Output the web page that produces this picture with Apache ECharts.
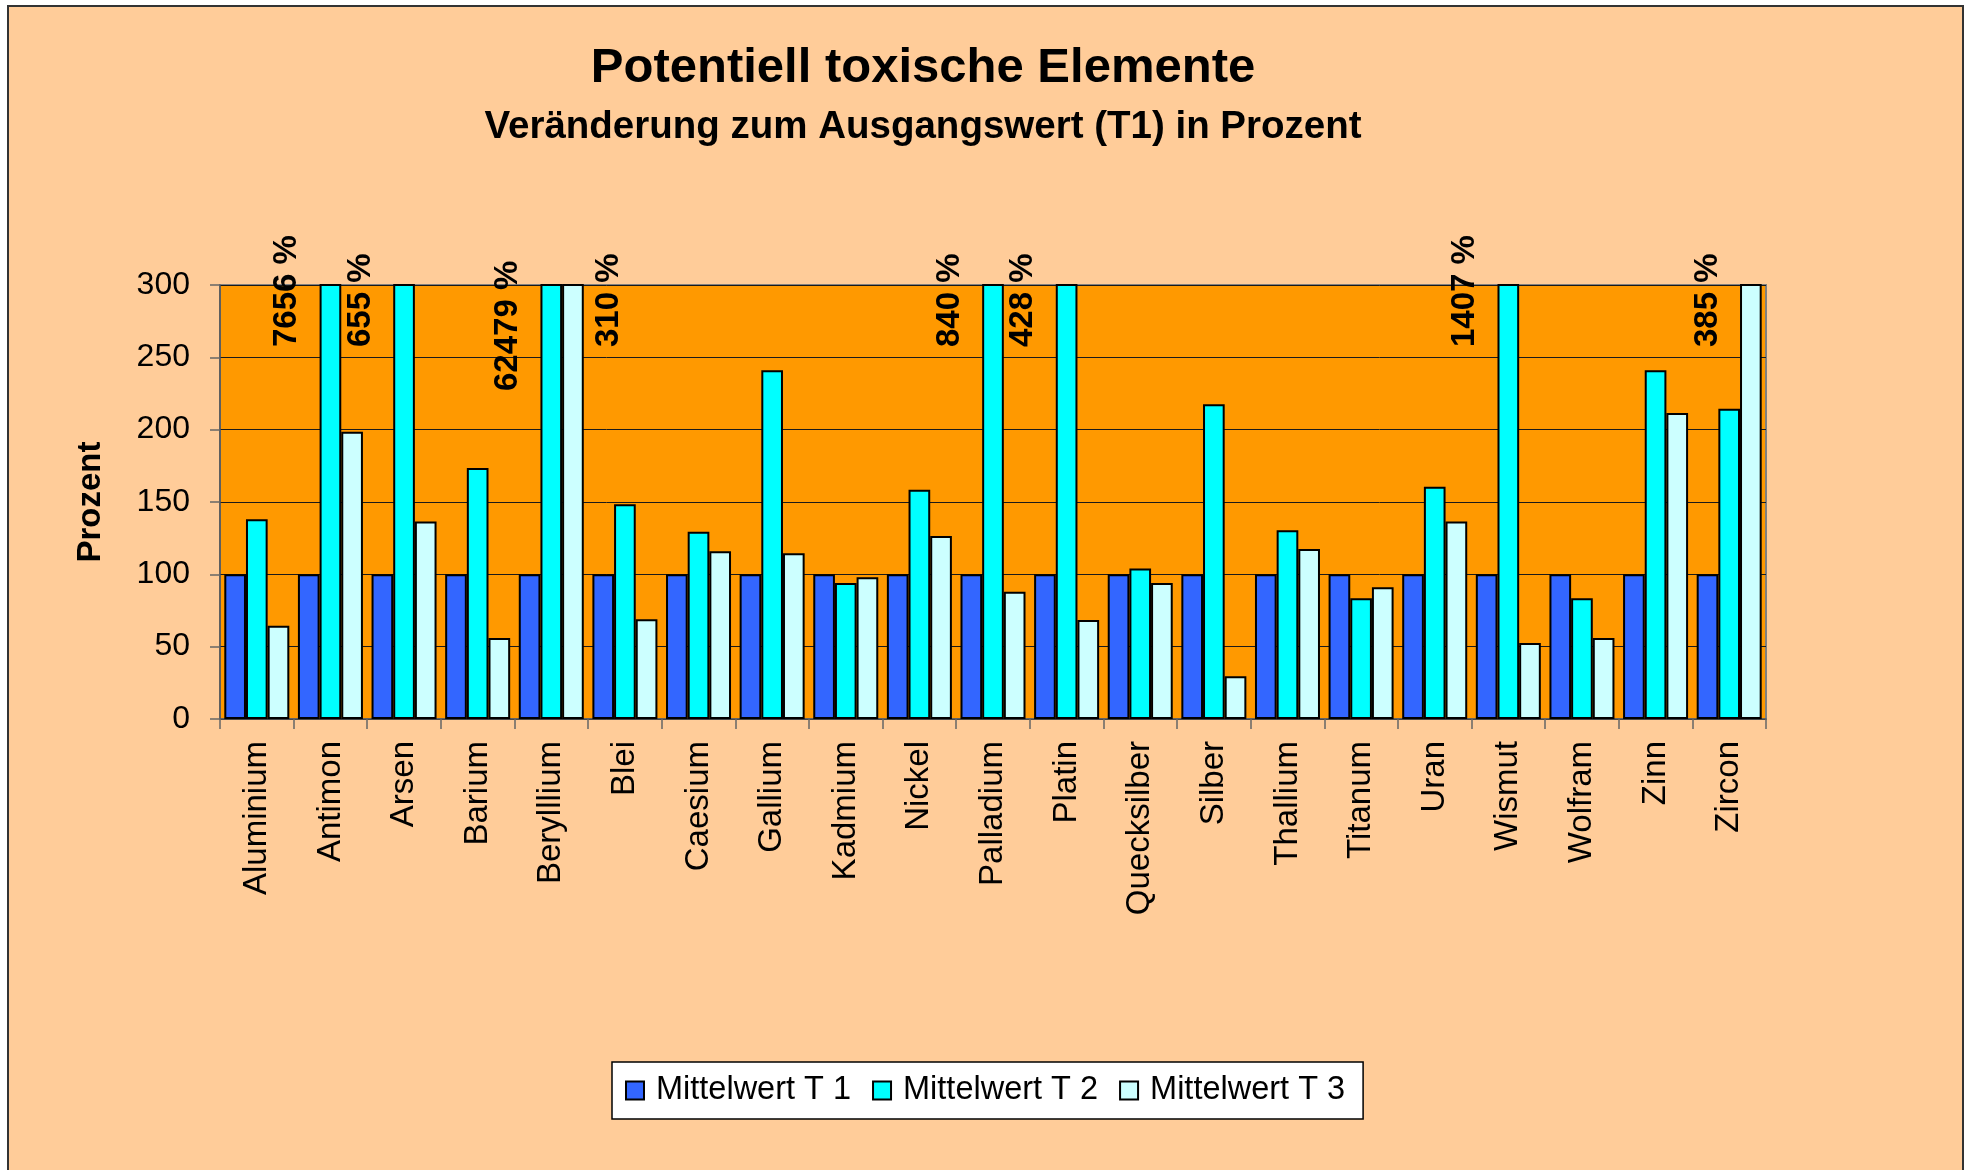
<!DOCTYPE html>
<html>
<head>
<meta charset="utf-8">
<script src="https://cdn.jsdelivr.net/npm/echarts@6/dist/echarts.min.js"></script>
<style>
  html, body { margin: 0; padding: 0; background: #ffffff; overflow: hidden; }
  #frame { position: absolute; left: 7px; top: 5px; width: 1953px; height: 1200px;
           border: 2px solid #333; background: #FFCC99; box-sizing: content-box; }
  #chart { position: absolute; left: 0; top: 0; width: 1971px; height: 1170px; }
</style>
</head>
<body>
<div id="frame"></div>
<div id="chart"></div>
<script>
// ---- data ----
const categories = ['Aluminium','Antimon','Arsen','Barium','Berylllium','Blei','Caesium','Gallium','Kadmium','Nickel','Palladium','Platin','Quecksilber','Silber','Thallium','Titanum','Uran','Wismut','Wolfram','Zinn','Zircon'];
const seriesNames = ['Mittelwert T 1','Mittelwert T 2','Mittelwert T 3'];
const t1 = [100,100,100,100,100,100,100,100,100,100,100,100,100,100,100,100,100,100,100,100,100];
const t2 = [138,7656,655,173.5,62479,148.5,129.5,241,94,158.5,840,428,104,217.5,130.5,83.5,160.5,1407,83.5,241,214.5];
const t3 = [64.5,198.5,136.5,56,310,69,116,114.5,98,126.5,88,68.5,94,29.5,117.5,91,136.5,52.5,56,211.5,385];
const yTicks = [0,50,100,150,200,250,300];
// labels on the right side of the clipped bar (series index, category index)
const rightSideLabels = [[2, 4]];
// labels set lower than the others (series index, category index)
const lowLabels = [[1, 4]];

const FONT = "'Liberation Sans', Arial, sans-serif";
const yMax = yTicks[yTicks.length - 1];
const colors = ['#3366FF', '#00FFFF', '#CCFFFF'];

function has(list, s, i) { return list.some(p => p[0] === s && p[1] === i); }

function buildData(values, sIdx) {
  return values.map((v, i) => {
    if (v <= yMax) return v;
    const right = has(rightSideLabels, sIdx, i);
    const low = has(lowLabels, sIdx, i);
    return {
      value: v,
      label: {
        show: true,
        formatter: v + ' %',
        rotate: 90,
        position: [right ? 30 : -16, low ? 107 : 63],
        align: 'left',
        verticalAlign: right ? 'top' : 'bottom',
        fontFamily: FONT,
        fontSize: 33,
        fontWeight: 'bold',
        color: '#000'
      }
    };
  });
}

const chart = echarts.init(document.getElementById('chart'), null, { renderer: 'canvas' });
const allSeries = [t1, t2, t3].map((vals, s) => ({
  name: seriesNames[s],
  type: 'bar',
  data: buildData(vals, s),
  barGap: '0%',
  barCategoryGap: '11.7%',
  clip: true,
  itemStyle: { color: colors[s], borderColor: '#000', borderWidth: 2 },
  emphasis: { disabled: true }
}));

chart.setOption({
  backgroundColor: 'transparent',
  animation: false,
  textStyle: { fontFamily: FONT },
  graphic: [
    { type: 'text', x: 923, y: 68, style: { text: 'Potentiell toxische Elemente', font: 'bold 49px ' + FONT, fill: '#000', align: 'center', verticalAlign: 'middle' } },
    { type: 'text', x: 923, y: 127, style: { text: 'Veränderung zum Ausgangswert (T1) in Prozent', font: 'bold 38.5px ' + FONT, fill: '#000', align: 'center', verticalAlign: 'middle' } }
  ],
  legend: {
    left: 612, top: 1062,
    orient: 'horizontal',
    icon: 'rect',
    itemWidth: 18, itemHeight: 18, itemGap: 21,
    padding: [12, 18, 12, 13],
    backgroundColor: '#ffffff',
    borderColor: '#000', borderWidth: 1.5,
    textStyle: { fontFamily: FONT, fontSize: 32.5, color: '#000', padding: [0, 0, 0, 7] },
    selectedMode: false
  },
  grid: {
    left: 220, top: 285, width: 1546, height: 434,
    show: true, backgroundColor: '#FF9900', borderColor: '#808080', borderWidth: 2,
    containLabel: false
  },
  xAxis: {
    type: 'category',
    data: categories,
    boundaryGap: true,
    axisLine: { show: true, lineStyle: { color: '#555', width: 1.5 } },
    axisTick: { show: true, length: 10, lineStyle: { color: '#666', width: 1.5 }, alignWithLabel: false },
    axisLabel: { interval: 0, rotate: 90, margin: 22, fontFamily: FONT, fontSize: 33, color: '#000' },
    splitLine: { show: false }
  },
  yAxis: {
    type: 'value',
    min: yTicks[0], max: yMax, interval: 50,
    name: 'Prozent', nameLocation: 'middle', nameGap: 113, nameRotate: 90,
    nameTextStyle: { fontFamily: FONT, fontSize: 33, fontWeight: 'bold', color: '#000' },
    axisLine: { show: true, lineStyle: { color: '#555', width: 1.5 } },
    axisTick: { show: true, length: 10, inside: false, lineStyle: { color: '#666', width: 1.5 } },
    axisLabel: { margin: 30, fontFamily: FONT, fontSize: 32, color: '#000' },
    splitLine: { show: true, lineStyle: { color: '#1a1a1a', width: 1 } }
  },
  series: allSeries
});
</script>
</body>
</html>
